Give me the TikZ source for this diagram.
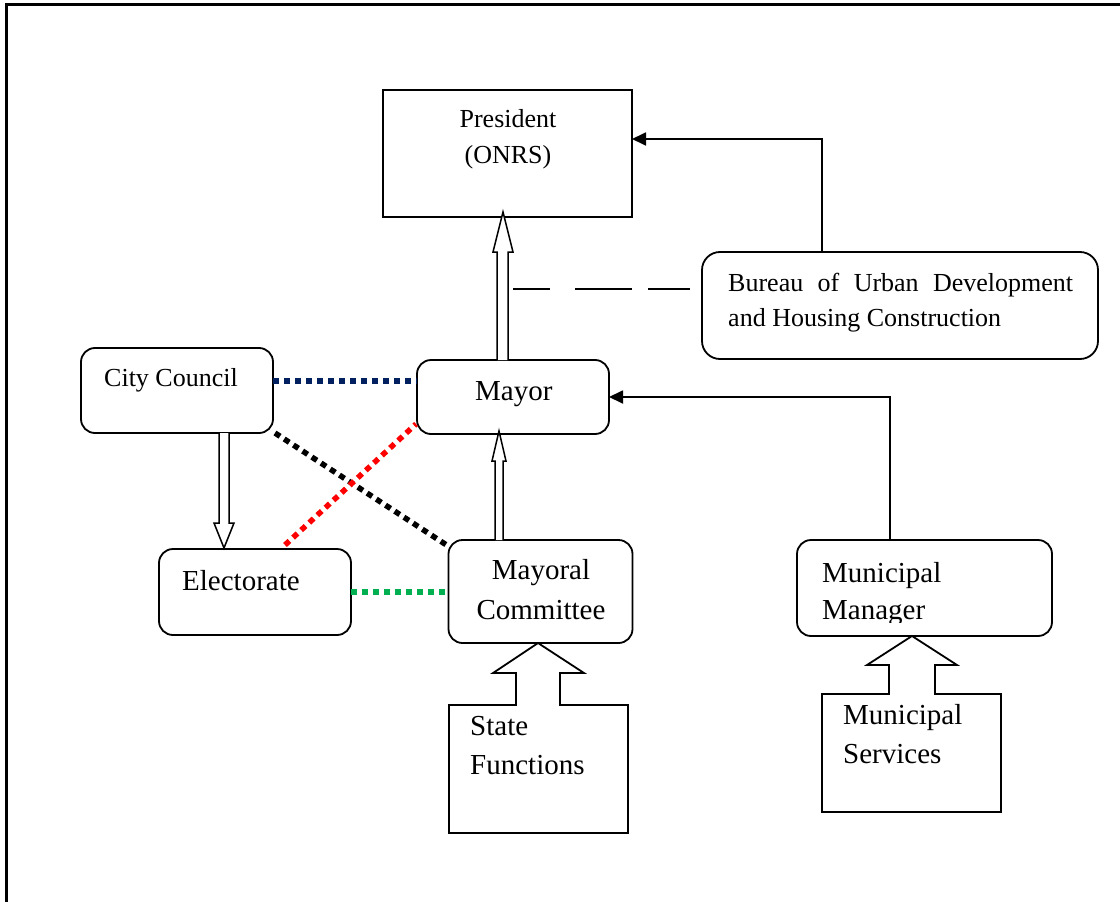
\documentclass[tikz,border=0pt]{standalone}
\usepackage{fontspec}
\setmainfont{Liberation Serif}
\usetikzlibrary{arrows.meta,calc}
\definecolor{navy}{RGB}{0,32,96}
\definecolor{grn}{RGB}{0,176,80}
\begin{document}
\begin{tikzpicture}[x=1pt,y=-1pt,
  rbox/.style={draw,line width=1.8pt,rounded corners=14pt,inner sep=0pt,outer sep=0pt},
  sbox/.style={draw,line width=1.8pt,inner sep=0pt,outer sep=0pt},
  txtA/.style={inner sep=0pt,font=\fontsize{26}{31}\selectfont},
  txtB/.style={inner sep=0pt,font=\fontsize{29}{35}\selectfont},
  conn/.style={line width=1.8pt,-{Triangle[length=14pt,width=13pt]}},
  hollow/.style={draw,line width=1.5pt,fill=white,line join=miter},
  callout/.style={draw,line width=1.8pt,fill=white,line join=miter},
  dots/.style={line width=5.5pt,dash pattern=on 6pt off 5pt},
  longdash/.style={line width=1.5pt,dash pattern=on 37pt off 25pt on 57pt off 16pt on 42pt off 0pt}
]
\useasboundingbox (0,0) rectangle (1120,902);
\fill[white] (0,0) rectangle (1120,902);
% frame
\draw[line width=3pt] (6,902) -- (6,4) -- (1120,4);

% boxes
\node[sbox,minimum width=249pt,minimum height=127pt] (pres) at (507.5,153.5) {};
\node[rbox,rounded corners=18pt,minimum width=396pt,minimum height=107pt] (bur) at (900,305.5) {};
\node[rbox,minimum width=192pt,minimum height=74pt] (mayor) at (513,397) {};
\node[rbox,minimum width=192pt,minimum height=85pt] (cc) at (177,390.5) {};
\node[rbox,minimum width=192pt,minimum height=86pt] (elec) at (255,592) {};
\node[rbox,minimum width=184pt,minimum height=103pt] (mc) at (540.5,591.5) {};
\node[rbox,minimum width=255pt,minimum height=96pt] (mm) at (924.5,588) {};

% callout shapes
\draw[callout] (449,833) -- (449,705) -- (516,705) -- (516,673) -- (493,673)
  -- (mc.south -| 538,0) -- (584,673) -- (560,673) -- (560,705) -- (628,705) -- (628,833) -- cycle;
\draw[callout] (822,812) -- (822,694) -- (889,694) -- (889,665) -- (867,665)
  -- (mm.south -| 912,0) -- (957,665) -- (935,665) -- (935,694) -- (1001,694) -- (1001,812) -- cycle;

% texts
\node[txtA,anchor=base] (t-pres1) at (508,127) {President};
\node[txtA,anchor=base] (t-pres2) at (508,163) {(ONRS)};
\node[txtA,anchor=base west] (t-bur1) at (728,291) {\hbox to 345pt{Bureau\hfill of\hfill Urban\hfill Development}};
\node[txtA,anchor=base west] (t-bur2) at (728,326) {and Housing Construction};
\node[txtA,anchor=base west] (t-cc) at (104,386) {City Council};
\node[txtB,anchor=base west] (t-mayor) at (475,400) {Mayor};
\node[txtB,anchor=base west] (t-elec) at (182,590) {Electorate};
\node[txtB,anchor=base] (t-mc1) at (541,579) {Mayoral};
\node[txtB,anchor=base] (t-mc2) at (541,619) {Committee};
\node[txtB,anchor=base west] (t-mm1) at (822,582) {Municipal};
\begin{scope}
  \clip (797,540) rectangle (1052,622);
  \node[txtB,anchor=base west] (t-mm2) at (822,619) {Manager};
\end{scope}
\node[txtB,anchor=base west] (t-sf1) at (470,735) {State};
\node[txtB,anchor=base west] (t-sf2) at (470,774) {Functions};
\node[txtB,anchor=base west] (t-ms1) at (843,724) {Municipal};
\node[txtB,anchor=base west] (t-ms2) at (843,763) {Services};

% hollow arrows
\draw[hollow] ($(mayor.north)+(-16,0)$) -- ++(0,-108) -- ++(-4,0) -- ($(pres.south)+(-4.5,-5)$)
  -- ($(mayor.north)+(0,-108)$) -- ++(-5,0) -- ++(0,108);
\draw[hollow] ($(mc.north)+(-45.5,0)$) -- ++(0,-79) -- ++(-3,0) -- ($(mayor.south)+(-14,-3)$)
  -- ($(mc.north)+(-34.5,-79)$) -- ++(-3,0) -- ++(0,79);
\draw[hollow] ($(cc.south)+(42,0)$) -- ++(0,90) -- ++(-5,0) -- ($(elec.north)+(-31,-1)$)
  -- ($(cc.south)+(57,90)$) -- ++(-5,0) -- ++(0,-90);

% solid connectors
\coordinate (b1) at (822,252);
\coordinate (pin) at (632,139);
\draw[conn] (b1) |- (pin);
\coordinate (m1) at (890,540);
\draw[conn] (m1) |- (mayor.east);

% long dashed
\coordinate (d1) at (513,289);
\coordinate (d2) at (690,289);
\draw[longdash] (d1) -- (d2);

% dotted
\draw[dots,navy] ($(cc.east)+(0,-9.5)$) -- ($(mayor.west)+(0,-16)$);
\draw[dots,black] ($(cc.south east)+(2,0)$) -- ($(mc.north west)+(-2,5)$);
\draw[dots,red] ($(elec.north)+(30,-4)$) -- ($(mayor.south west)+(-1,-10)$);
\draw[dots,grn] (elec.east) -- (elec.east -| mc.west);
\end{tikzpicture}
\end{document}
